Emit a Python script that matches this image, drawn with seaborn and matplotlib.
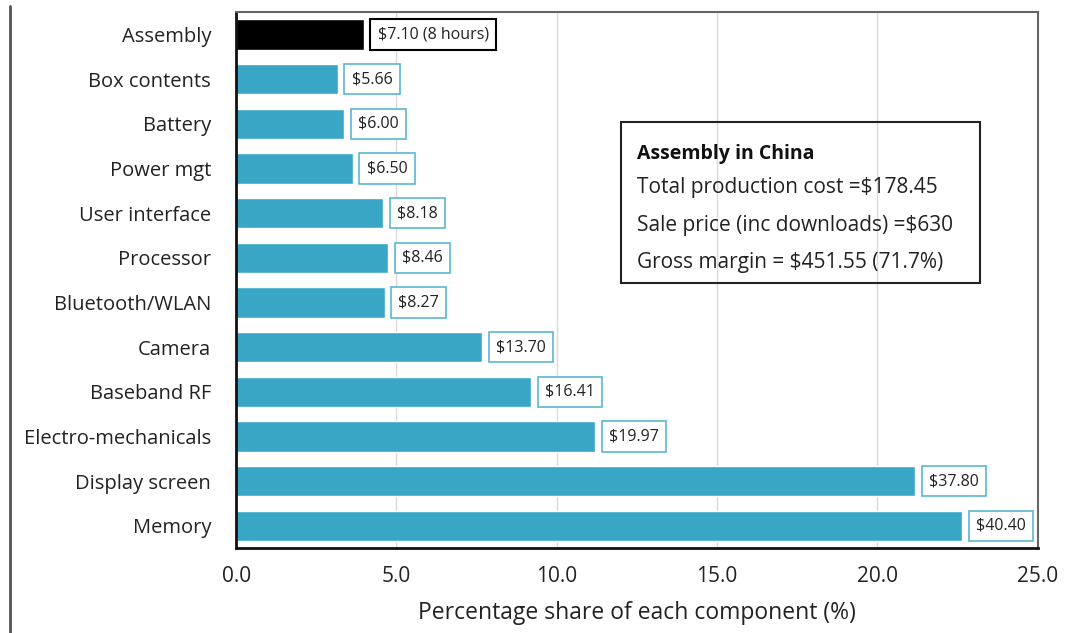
import matplotlib
matplotlib.use("Agg")
import matplotlib.pyplot as plt
import seaborn as sns
import pandas as pd
from matplotlib.lines import Line2D

components = ["Assembly", "Box contents", "Battery", "Power mgt", "User interface",
              "Processor", "Bluetooth/WLAN", "Camera", "Baseband RF",
              "Electro-mechanicals", "Display screen", "Memory"]
share_pct = [3.98, 3.17, 3.36, 3.64, 4.58, 4.74, 4.63, 7.68, 9.20, 11.19, 21.18, 22.64]
cost_labels = ["$7.10 (8 hours)", "$5.66", "$6.00", "$6.50", "$8.18", "$8.46", "$8.27",
               "$13.70", "$16.41", "$19.97", "$37.80", "$40.40"]
x_ticks = [0.0, 5.0, 10.0, 15.0, 20.0, 25.0]
info_title = "Assembly in China"
info_lines = ["Total production cost =$178.45",
              "Sale price (inc downloads) =$630",
              "Gross margin = $451.55 (71.7%)"]

sns.set_theme(style="white")
plt.rcParams["font.family"] = ["Open Sans", "DejaVu Sans"]

TEAL = "#3aa6c6"
colors = ["#000000"] + [TEAL] * (len(components) - 1)

df = pd.DataFrame({"component": components, "share": share_pct})

fig = plt.figure(figsize=(10.83, 6.33), dpi=100)
ax = fig.add_axes([0.218, 0.134, 0.740, 0.847])

sns.barplot(data=df, y="component", x="share", hue="component", palette=colors,
            legend=False, orient="h", width=0.68, ax=ax, saturation=1)

ax.set_xlim(0, 25)
ax.set_ylim(len(components) - 0.5, -0.5)
ax.set_xticks(x_ticks)
ax.set_xticklabels([f"{v:.1f}" for v in x_ticks], fontsize=15, color="#222222")
ax.set_yticks(range(len(components)))
ax.set_yticklabels(components, fontsize=14.5, color="#222222")
ax.set_xlabel("Percentage share of each component (%)", fontsize=16.5, color="#222222",
              labelpad=10)
ax.set_ylabel("")

ax.set_yticks([i - 0.5 for i in range(len(components) + 1)], minor=True)
ax.tick_params(axis="y", which="major", length=0, pad=18)
ax.tick_params(axis="y", which="minor", length=6, width=1.2, color="#222222", direction="out")
ax.tick_params(axis="x", which="major", length=6, width=1.2, color="#222222", direction="out",
               pad=7)

ax.grid(axis="x", color="#dadada", linewidth=1)
ax.set_axisbelow(True)
for s in ["left", "bottom"]:
    ax.spines[s].set_color("#111111")
    ax.spines[s].set_linewidth(2)
for s in ["top", "right"]:
    ax.spines[s].set_color("#666666")
    ax.spines[s].set_linewidth(1.5)

for i, (v, lab) in enumerate(zip(share_pct, cost_labels)):
    edge = "#000000" if i == 0 else "#5bb6cf"
    ax.annotate(lab, xy=(v, i), xytext=(10, 0), textcoords="offset points",
                va="center", ha="left", fontsize=11.5, color="#222222",
                bbox=dict(boxstyle="square,pad=0.45", fc="white", ec=edge,
                          lw=1.5 if i == 0 else 1.2))

ax.text(12.5, 2.68, info_title, fontsize=14, fontweight="bold", color="#111111", va="center")
for k, line in enumerate(info_lines):
    ax.text(12.5, 3.43 + 0.84 * k, line, fontsize=15, color="#222222", va="center")
ax.add_patch(plt.Rectangle((12.0, 1.96), 11.2, 3.6, fill=False, ec="#222222", lw=1.5,
                           zorder=3))

fig.add_artist(Line2D([0.0095, 0.0095], [0.0, 0.99], color="#555555", lw=2))

fig.savefig("out.png", dpi=100, facecolor="white")
